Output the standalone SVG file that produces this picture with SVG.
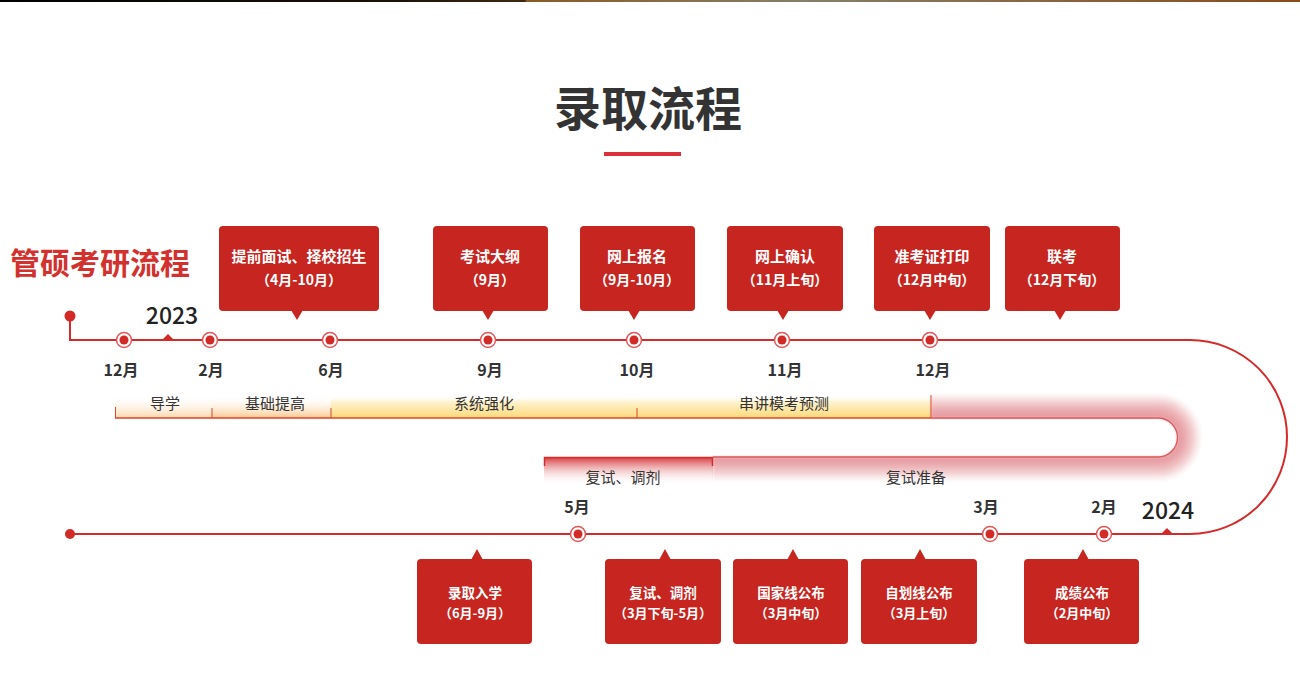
<svg xmlns="http://www.w3.org/2000/svg" width="1300" height="693" viewBox="0 0 1300 693">
<defs>
<linearGradient id="topbar" x1="0" y1="0" x2="1" y2="0">
<stop offset="0" stop-color="#000"/>
<stop offset="0.3" stop-color="#1a1208"/>
<stop offset="0.404" stop-color="#3d2a10"/>
<stop offset="0.405" stop-color="#8a5a25"/>
<stop offset="0.62" stop-color="#85806a"/>
<stop offset="1" stop-color="#8b4a1a"/>
</linearGradient>
<linearGradient id="peach" x1="0" y1="0" x2="0" y2="1">
<stop offset="0" stop-color="#fff" stop-opacity="0"/>
<stop offset="1" stop-color="#fbc88e"/>
</linearGradient>
<linearGradient id="yellow" x1="0" y1="0" x2="0" y2="1">
<stop offset="0" stop-color="#fff" stop-opacity="0"/>
<stop offset="0.3" stop-color="#fef3d0"/>
<stop offset="1" stop-color="#fdd978"/>
</linearGradient>
<linearGradient id="redfade" x1="0" y1="0" x2="0" y2="1">
<stop offset="0" stop-color="#d6383c"/>
<stop offset="1" stop-color="#fff" stop-opacity="0"/>
</linearGradient>
<filter id="soft" x="-5%" y="-20%" width="110%" height="140%">
<feGaussianBlur stdDeviation="1.3"/>
</filter>
</defs>
<style>
.cjk{font-family:"Noto Sans CJK SC","Noto Sans",sans-serif}
.box{fill:#c62520}
.bt1{font-family:"Noto Sans CJK SC",sans-serif;font-size:15px;font-weight:bold;fill:#fff;text-anchor:middle}
.bt2{font-family:"Noto Sans CJK SC",sans-serif;font-size:14px;font-weight:bold;fill:#fff;text-anchor:middle}
.st1{font-family:"Noto Sans CJK SC",sans-serif;font-size:13.5px;font-weight:bold;fill:#fff;text-anchor:middle}
.st2{font-family:"Noto Sans CJK SC",sans-serif;font-size:13px;font-weight:bold;fill:#fff;text-anchor:middle}
.mon{font-family:"Noto Sans CJK SC",sans-serif;font-size:16px;font-weight:bold;fill:#333;text-anchor:middle}
.ph{font-family:"Noto Sans CJK SC",sans-serif;font-size:15px;fill:#333;text-anchor:middle}
.year{font-family:"Noto Sans CJK SC",sans-serif;font-size:23px;font-weight:500;fill:#222;text-anchor:middle}
.ring{fill:#fff;stroke:#e2585a;stroke-width:1.5}
.dot{fill:#d22a27}
.tl{fill:none;stroke:#d42a2a;stroke-width:2}
.band{fill:none;stroke:#e6999e;stroke-width:3.6}
</style>

<rect x="0" y="0" width="1300" height="2" fill="url(#topbar)"/>

<g id="title">
<text x="648" y="126" class="cjk" font-size="47" font-weight="bold" fill="#333" text-anchor="middle">录取流程</text>
<rect x="604" y="152" width="77" height="4" fill="#d9303a"/>
</g>

<g id="heading">
<text x="10" y="274" class="cjk" font-size="30" font-weight="bold" fill="#d3312d">管硕考研流程</text>
</g>

<g id="phases">
<rect x="115" y="395" width="97" height="23" fill="url(#peach)" opacity="0.75"/>
<rect x="212" y="395" width="119" height="23" fill="url(#peach)"/>
<rect x="331" y="395" width="306" height="23" fill="url(#yellow)"/>
<rect x="637" y="395" width="294" height="23" fill="url(#yellow)"/>
<g filter="url(#soft)">
<path class="band" stroke-opacity="0.95" d="M931 416.5H1158A21 21 0 0 1 1158 458.5H713"/>
<path class="band" stroke-opacity="0.88" d="M931 413.5H1158A24 24 0 0 1 1158 461.5H713"/>
<path class="band" stroke-opacity="0.78" d="M931 410.5H1158A27 27 0 0 1 1158 464.5H713"/>
<path class="band" stroke-opacity="0.66" d="M931 407.5H1158A30 30 0 0 1 1158 467.5H713"/>
<path class="band" stroke-opacity="0.52" d="M931 404.5H1158A33 33 0 0 1 1158 470.5H713"/>
<path class="band" stroke-opacity="0.38" d="M931 401.5H1158A36 36 0 0 1 1158 473.5H713"/>
<path class="band" stroke-opacity="0.22" d="M931 398.5H1158A39 39 0 0 1 1158 476.5H713"/>
<path class="band" stroke-opacity="0.1" d="M931 395.5H1158A42 42 0 0 1 1158 479.5H713"/>
</g>
<rect x="544" y="457" width="169" height="28" fill="url(#redfade)"/>
<path d="M115 418H931" stroke="#e0442a" stroke-width="1.5" fill="none"/>
<path d="M115.5 407V418M212 408V418M331 408V418M637 408V418M931 395V418" stroke="#e0442a" stroke-width="1" fill="none"/>
<path d="M931 418H1158A19.5 19.5 0 0 1 1158 457H713" stroke="#dc585c" stroke-width="1.3" fill="none"/>
<path d="M544.5 466V457.5H712.5V466" stroke="#d42a2a" stroke-width="1.5" fill="none"/>
<text x="165" y="409" class="ph">导学</text>
<text x="275" y="409" class="ph">基础提高</text>
<text x="484" y="409" class="ph">系统强化</text>
<text x="784" y="409" class="ph">串讲模考预测</text>
<text x="623" y="483" class="ph">复试、调剂</text>
<text x="916" y="483" class="ph">复试准备</text>
</g>

<g id="connectors">
<path class="tl" d="M70 316V340H1190A97 97 0 0 1 1190 534H70"/>
<circle cx="70" cy="316" r="5.5" class="dot"/>
<circle cx="70" cy="534" r="5" class="dot"/>
<path d="M162 340L168 334L174 340Z" class="dot"/>
<path d="M1161 534L1167 528L1173 534Z" class="dot"/>
</g>

<g id="years">
<text x="172" y="324" class="year">2023</text>
<text x="1168" y="519" class="year">2024</text>
</g>

<g id="markers">
<g id="m-dec23"><circle cx="124" cy="340" r="7.5" class="ring"/><circle cx="124" cy="340" r="4.5" class="dot"/><text x="121" y="376" class="mon">12月</text></g>
<g id="m-feb"><circle cx="210" cy="340" r="7.5" class="ring"/><circle cx="210" cy="340" r="4.5" class="dot"/><text x="211" y="376" class="mon">2月</text></g>
<g id="m-jun"><circle cx="330" cy="340" r="7.5" class="ring"/><circle cx="330" cy="340" r="4.5" class="dot"/><text x="331" y="376" class="mon">6月</text></g>
<g id="m-sep"><circle cx="488" cy="340" r="7.5" class="ring"/><circle cx="488" cy="340" r="4.5" class="dot"/><text x="490" y="376" class="mon">9月</text></g>
<g id="m-oct"><circle cx="634" cy="340" r="7.5" class="ring"/><circle cx="634" cy="340" r="4.5" class="dot"/><text x="637" y="376" class="mon">10月</text></g>
<g id="m-nov"><circle cx="782" cy="340" r="7.5" class="ring"/><circle cx="782" cy="340" r="4.5" class="dot"/><text x="785" y="376" class="mon">11月</text></g>
<g id="m-dec"><circle cx="930" cy="340" r="7.5" class="ring"/><circle cx="930" cy="340" r="4.5" class="dot"/><text x="933" y="376" class="mon">12月</text></g>
<g id="m-may"><circle cx="578" cy="534" r="7.5" class="ring"/><circle cx="578" cy="534" r="4.5" class="dot"/><text x="577" y="513" class="mon">5月</text></g>
<g id="m-mar"><circle cx="990" cy="534" r="7.5" class="ring"/><circle cx="990" cy="534" r="4.5" class="dot"/><text x="986" y="513" class="mon">3月</text></g>
<g id="m-feb24"><circle cx="1104" cy="534" r="7.5" class="ring"/><circle cx="1104" cy="534" r="4.5" class="dot"/><text x="1104" y="513" class="mon">2月</text></g>
</g>

<g id="n1"><rect x="219" y="226" width="160" height="85" rx="4" class="box"/><path d="M291 310L297 320L303 310Z" class="box"/><text x="299" y="262" class="bt1">提前面试、择校招生</text><text x="299" y="285" class="bt2">（4月-10月）</text></g>
<g id="n2"><rect x="433" y="226" width="115" height="85" rx="4" class="box"/><path d="M482 310L488 320L494 310Z" class="box"/><text x="490" y="262" class="bt1">考试大纲</text><text x="490" y="285" class="bt2">（9月）</text></g>
<g id="n3"><rect x="580" y="226" width="115" height="85" rx="4" class="box"/><path d="M628 310L634 320L640 310Z" class="box"/><text x="637" y="262" class="bt1">网上报名</text><text x="637" y="285" class="bt2">（9月-10月）</text></g>
<g id="n4"><rect x="727" y="226" width="116" height="85" rx="4" class="box"/><path d="M777 310L783 320L789 310Z" class="box"/><text x="785" y="262" class="bt1">网上确认</text><text x="785" y="285" class="bt2">（11月上旬）</text></g>
<g id="n5"><rect x="874" y="226" width="116" height="85" rx="4" class="box"/><path d="M924 310L930 320L936 310Z" class="box"/><text x="932" y="262" class="bt1">准考证打印</text><text x="932" y="285" class="bt2">（12月中旬）</text></g>
<g id="n6"><rect x="1005" y="226" width="115" height="85" rx="4" class="box"/><path d="M1054 310L1060 320L1066 310Z" class="box"/><text x="1062" y="262" class="bt1">联考</text><text x="1062" y="285" class="bt2">（12月下旬）</text></g>

<g id="n7"><rect x="417" y="559" width="115" height="85" rx="4" class="box"/><path d="M471 560L477 549L483 560Z" class="box"/><text x="475" y="598" class="st1">录取入学</text><text x="475" y="618" class="st2">（6月-9月）</text></g>
<g id="n8"><rect x="605" y="559" width="116" height="85" rx="4" class="box"/><path d="M659 560L665 549L671 560Z" class="box"/><text x="663" y="598" class="st1">复试、调剂</text><text x="663" y="618" class="st2">（3月下旬-5月）</text></g>
<g id="n9"><rect x="733" y="559" width="115" height="85" rx="4" class="box"/><path d="M787 560L793 549L799 560Z" class="box"/><text x="791" y="598" class="st1">国家线公布</text><text x="791" y="618" class="st2">（3月中旬）</text></g>
<g id="n10"><rect x="861" y="559" width="116" height="85" rx="4" class="box"/><path d="M914 560L920 549L926 560Z" class="box"/><text x="919" y="598" class="st1">自划线公布</text><text x="919" y="618" class="st2">（3月上旬）</text></g>
<g id="n11"><rect x="1024" y="559" width="115" height="85" rx="4" class="box"/><path d="M1077 560L1083 549L1089 560Z" class="box"/><text x="1082" y="598" class="st1">成绩公布</text><text x="1082" y="618" class="st2">（2月中旬）</text></g>
</svg>
